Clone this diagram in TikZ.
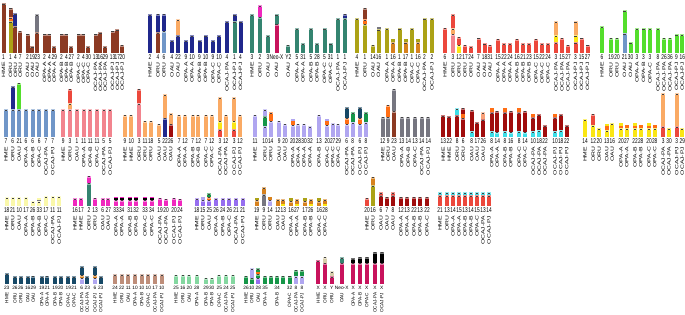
\documentclass[tikz,border=0pt]{standalone}
\usepackage{fontspec}
\setmainfont{Liberation Sans}
\definecolor{br}{RGB}{140,58,35}
\definecolor{olive}{RGB}{172,162,22}
\definecolor{navy}{RGB}{32,40,140}
\definecolor{steel}{RGB}{112,150,200}
\definecolor{teal}{RGB}{52,132,112}
\definecolor{magenta}{RGB}{240,40,190}
\definecolor{crimson}{RGB}{200,18,92}
\definecolor{red}{RGB}{236,72,60}
\definecolor{pink}{RGB}{242,132,142}
\definecolor{lorange}{RGB}{250,170,100}
\definecolor{yellow}{RGB}{250,230,20}
\definecolor{green}{RGB}{84,222,44}
\definecolor{gray}{RGB}{118,118,128}
\definecolor{lav}{RGB}{176,166,240}
\definecolor{dteal}{RGB}{22,72,102}
\definecolor{darkred}{RGB}{160,12,12}
\definecolor{cyan}{RGB}{60,222,232}
\definecolor{orange}{RGB}{255,110,20}
\definecolor{lyellow}{RGB}{250,248,170}
\definecolor{purple}{RGB}{150,110,240}
\definecolor{dorange}{RGB}{215,130,30}
\definecolor{tan}{RGB}{190,142,122}
\definecolor{beige}{RGB}{215,205,170}
\definecolor{lgreen}{RGB}{132,215,160}
\definecolor{green2}{RGB}{22,150,72}
\definecolor{lsalmon}{RGB}{250,160,120}
\newcount\bn
\def\rowb{0}\def\hs{1}\def\ls{1}\def\numy{0}\def\laby{0}
\newcommand\setrow[5]{\def\rowb{#1}\def\hs{#2}\def\ls{#3}\def\numy{#4}\def\laby{#5}}
\newcommand\B[4]{%
  \global\advance\bn by 1\relax
  \gdef\cy{0}%
  \foreach \bc/\bh in {#2}{%
    \pgfmathsetmacro\bny{\cy+\bh*\hs}%
    \fill[\bc] ({#1-2},{\rowb+\cy}) rectangle ({#1+2},{\rowb+\bny});
    \ifdim\bh pt>2.9pt
      \fill[capst] ({#1-2},{\rowb+\bny-2}) rectangle ({#1+2},{\rowb+\bny});
      \fill[glyph] ({#1-1.1},{\rowb+\bny-1.5}) rectangle ({#1+1.1},{\rowb+\bny-0.6});
    \fi
    \xdef\cy{\bny}%
  }%
  \node[num,yscale=\ls] (n\the\bn) at (#1,\numy) {#3};
  \node[lab,xscale=\ls] (l\the\bn) at (#1,\laby) {#4};
}
\begin{document}
\begin{tikzpicture}[x=1pt,y=1pt,
  capst/.style={fill=white,fill opacity=0.45},
  glyph/.style={fill=black!75},
  num/.style={font=\fontsize{4.8}{5}\selectfont,anchor=base,inner sep=0pt},
  lab/.style={font=\fontsize{4.7}{5}\selectfont,rotate=90,anchor=east,inner sep=0pt}]
\useasboundingbox[fill=white] (0,0) rectangle (685,-315);
% ===== ROW 1 =====
\setrow{-53}{1.39}{1.45}{-59.8}{-62}
\B{3.5}{br/36}{1}{HME}
\B{10.5}{olive/22.7,orange/3,br/7}{1}{ORU}
\B{15.4}{br/19.3,navy/9.3}{4}{ORU}
\B{20.3}{br/16}{7}{ORU}
\B{27.5}{br/14}{2}{OAU}
\B{32.4}{br/5}{19}{OAU}
\B{37.3}{br/15,gray/12.7}{23}{OAU}
\B{44.5}{br/14}{2}{OPA-A}
\B{49.4}{br/14}{4}{OPA-A}
\B{54.3}{br/5}{29}{OPA-A}
\B{61.5}{br/14}{2}{OPA-B}
\B{66.4}{br/14}{4}{OPA-B}
\B{71.3}{br/5}{27}{OPA-B}
\B{78.5}{br/14}{2}{OPA-C}
\B{83.4}{br/14}{4}{OPA-C}
\B{88.3}{br/5}{30}{OPA-C}
\B{95.5}{br/14}{13}{OCAJ-PA}
\B{100.4}{br/15}{16}{OCAJ-PA}
\B{105.3}{br/5}{29}{OCAJ-PA}
\B{112.5}{br/16}{13}{OCAJ-PJ}
\B{117.4}{br/17}{17}{OCAJ-PJ}
\B{122.3}{br/6}{20}{OCAJ-PJ}
%
\B{150}{navy/27.7}{2}{HME}
\B{158}{br/15,navy/13.3}{4}{ORU}
\B{164}{steel/16,navy/12.3}{6}{ORU}
\B{172}{navy/9.3}{4}{OAU}
\B{178}{navy/12.7,lorange/11.7}{22}{OAU}
\B{186}{navy/9.3}{9}{OPA-A}
\B{192}{navy/12.7}{10}{OPA-A}
\B{199.5}{navy/9.3}{9}{OPA-B}
\B{205.5}{navy/12.7}{10}{OPA-B}
\B{213}{navy/9.3}{9}{OPA-C}
\B{219}{navy/12.7}{10}{OPA-C}
\B{227}{navy/22.7}{4}{OCAJ-PA}
\B{234.5}{teal/22.7,navy/5}{1}{OCAJ-PJ}
\B{240.5}{navy/22.7}{4}{OCAJ-PJ}
%
\B{252}{teal/27.7}{3}{HME}
\B{260}{teal/26,magenta/8.3}{2}{ORU}
\B{268}{teal/12.7}{3}{OAU}
\B{276.5}{crimson/21,teal/6.7}{Neo-X}{OAU}
\B{288.3}{teal/6}{Y2}{OAU}
\B{297}{teal/17.7}{5}{OPA-A}
\B{303}{teal/7}{31}{OPA-A}
\B{311}{teal/17.7}{5}{OPA-B}
\B{317}{teal/7}{28}{OPA-B}
\B{324.5}{teal/17.7}{5}{OPA-C}
\B{330.5}{teal/7}{31}{OPA-C}
\B{338}{teal/25}{1}{OCAJ-PA}
\B{345}{teal/25,navy/3.3}{1}{OCAJ-PJ}
%
\B{357}{olive/25}{4}{HME}
\B{365}{olive/21,orange/3.3,br/8.3}{1}{ORU}
\B{373}{olive/6}{14}{OAU}
\B{378.5}{olive/17,gray/2}{16}{OAU}
\B{387}{olive/17.7}{1}{OPA-A}
\B{393}{dorange/7.7,olive/2.5}{16}{OPA-A}
\B{399.5}{olive/17.7}{1}{OPA-B}
\B{405.5}{dorange/7.7,olive/2.5}{17}{OPA-B}
\B{412}{olive/17.7}{1}{OPA-C}
\B{418}{dorange/7.7,olive/2.5}{16}{OPA-C}
\B{424.5}{olive/25}{2}{OCAJ-PA}
\B{432}{olive/25}{2}{OCAJ-PJ}
%
\B{445}{red/18.3}{6}{HME}
\B{453}{pink/14,lorange/4,red/9.7}{3}{ORU}
\B{459}{yellow/6,red/5.7}{12}{ORU}
\B{465}{red/6}{17}{ORU}
\B{471}{red/5}{24}{ORU}
\B{478.5}{red/11}{7}{OAU}
\B{484.5}{red/7}{18}{OAU}
\B{490}{red/6}{31}{OAU}
\B{498}{red/10.3}{15}{OPA-A}
\B{504}{red/7}{22}{OPA-A}
\B{510}{red/7}{24}{OPA-A}
\B{517}{red/10.3}{16}{OPA-B}
\B{523}{red/7}{21}{OPA-B}
\B{529}{red/7}{23}{OPA-B}
\B{536}{red/10.3}{15}{OPA-C}
\B{542}{red/7}{22}{OPA-C}
\B{548}{red/7}{24}{OPA-C}
\B{556}{red/7.7,yellow/5,lorange/10}{3}{OCAJ-PA}
\B{562}{red/11}{15}{OCAJ-PA}
\B{568}{red/6}{27}{OCAJ-PA}
\B{575.5}{red/7.7,yellow/5,lorange/10}{3}{OCAJ-PJ}
\B{581.5}{red/11}{15}{OCAJ-PJ}
\B{587.5}{red/6}{27}{OCAJ-PJ}
%
\B{602}{green/19.3}{6}{HME}
\B{611}{green/11}{19}{ORU}
\B{617}{green/11}{20}{ORU}
\B{624.5}{steel/14.3,green/16.7}{21}{OAU}
\B{630.5}{green/7.7}{30}{OAU}
\B{637}{green/17.7}{3}{OPA-A}
\B{643.5}{green/17.7}{3}{OPA-B}
\B{650}{green/17.7}{3}{OPA-C}
\B{658}{green/17.7}{8}{OCAJ-PA}
\B{664}{green/11}{26}{OCAJ-PA}
\B{670}{green/11}{36}{OCAJ-PA}
\B{676.5}{green/13.7}{9}{OCAJ-PJ}
\B{682.3}{green/13.7}{16}{OCAJ-PJ}
% ===== ROW 2 =====
\setrow{-137}{1.75}{1.45}{-143.8}{-146.5}
\B{6}{steel/16}{7}{HME}
\B{12.7}{steel/16,navy/13}{6}{ORU}
\B{19.3}{steel/16,green/15}{21}{OAU}
\B{26}{steel/16}{6}{OPA-A}
\B{32.7}{steel/16}{6}{OPA-B}
\B{39.3}{steel/16}{6}{OPA-C}
\B{46}{steel/16}{7}{OCAJ-PA}
\B{52.7}{steel/16}{7}{OCAJ-PJ}
%
\B{63.3}{pink/16}{9}{HME}
\B{70}{pink/16,lorange/3.3,red/8.3}{3}{ORU}
\B{77}{pink/16}{1}{OAU}
\B{83.7}{pink/16}{11}{OPA-A}
\B{90.3}{pink/16}{11}{OPA-B}
\B{97}{pink/16}{11}{OPA-C}
\B{103.7}{pink/16}{5}{OCAJ-PA}
\B{110.3}{pink/16}{5}{OCAJ-PJ}
%
\B{125}{lorange/12.7}{9}{HME}
\B{131.3}{lorange/12.7}{10}{HME}
\B{139.3}{pink/19.3,red/8.3}{3}{ORU}
\B{145}{lorange/9.3}{11}{ORU}
\B{150.7}{lorange/9.3}{18}{ORU}
\B{159.3}{lorange/7.7}{5}{OAU}
\B{165}{navy/11,lorange/13.3}{22}{OAU}
\B{170.7}{darkred/7.7,lorange/6}{26}{OAU}
\B{179.3}{lorange/12.7}{7}{OPA-A}
\B{185}{lorange/12.7}{12}{OPA-A}
\B{192.7}{lorange/12.7}{7}{OPA-B}
\B{198.3}{lorange/12.7}{12}{OPA-B}
\B{206}{lorange/12.7}{7}{OPA-C}
\B{211.7}{lorange/12.7}{12}{OPA-C}
\B{220}{red/4.3,yellow/5,lorange/13.3}{3}{OCAJ-PA}
\B{225.7}{lorange/12.7}{12}{OCAJ-PA}
\B{234.3}{red/4.3,yellow/5,lorange/13.3}{3}{OCAJ-PJ}
\B{240}{lorange/12.7}{12}{OCAJ-PJ}
%
\B{255}{lav/12.7}{11}{HME}
\B{265}{lav/6,green2/6,lav/4}{10}{ORU}
\B{270.7}{lav/9.3,orange/5}{14}{ORU}
\B{279.3}{lav/9.3}{9}{OAU}
\B{285}{lav/7.7}{20}{OAU}
\B{292.7}{lav/7,orange/2,lav/1.5}{20}{OPA-A}
\B{298.3}{lav/7.7}{28}{OPA-A}
\B{304}{lav/7.7}{30}{OPA-A}
\B{310}{lav/6}{32}{OPA-A}
\B{319}{lav/12.7}{13}{OPA-B}
\B{327.3}{lav/7,orange/2,lav/1}{20}{OPA-C}
\B{332.7}{lav/8}{27}{OPA-C}
\B{338.3}{lav/7.7}{29}{OPA-C}
\B{346.7}{lav/7.7,orange/3.3,dteal/6}{6}{OCAJ-PA}
\B{352.7}{lav/8.3,green2/6}{8}{OCAJ-PA}
\B{360}{lav/7.7,orange/3.3,dteal/6}{6}{OCAJ-PJ}
\B{366}{lav/8.3,green2/6}{8}{OCAJ-PJ}
%
\B{382.7}{gray/11.7}{12}{HME}
\B{388.3}{gray/11.7,orange/6.7}{9}{ORU}
\B{394}{br/15,gray/12.7}{23}{OAU}
\B{401.7}{gray/11.7}{13}{OPA-A}
\B{408.3}{gray/11.7}{14}{OPA-B}
\B{415}{gray/11.7}{13}{OPA-C}
\B{421.7}{gray/11.7}{14}{OCAJ-PA}
\B{428.3}{gray/11.7}{14}{OCAJ-PJ}
%
\B{443.3}{darkred/12.3}{13}{HME}
\B{449.3}{darkred/12}{22}{HME}
\B{457.3}{darkred/12.3,cyan/4.3}{8}{ORU}
\B{463.3}{darkred/11,orange/2,darkred/3.7}{6}{ORU}
\B{471.7}{cyan/3.3,darkred/12.3}{8}{OAU}
\B{477.3}{darkred/8.3}{17}{OAU}
\B{483.3}{darkred/10,lsalmon/4}{26}{OAU}
\B{491.7}{cyan/3.3,darkred/11,orange/2}{8}{OPA-A}
\B{497.3}{cyan/3,darkred/12}{14}{OPA-A}
\B{505}{cyan/3.3,darkred/11,orange/2}{8}{OPA-B}
\B{510.7}{cyan/3,darkred/12}{16}{OPA-B}
\B{519.3}{cyan/3.3,darkred/11,orange/2}{8}{OPA-C}
\B{525}{cyan/3,darkred/12}{14}{OPA-C}
\B{533.3}{cyan/3.3,darkred/8,orange/2}{10}{OCAJ-PA}
\B{539.3}{cyan/4,darkred/9}{18}{OCAJ-PA}
\B{545}{darkred/6.7}{22}{OCAJ-PA}
\B{555}{cyan/3.3,darkred/8,orange/2}{10}{OCAJ-PJ}
\B{560.7}{cyan/4,darkred/9}{18}{OCAJ-PJ}
\B{566.7}{darkred/6.7}{22}{OCAJ-PJ}
%
\B{585}{yellow/10}{14}{HME}
\B{593.3}{yellow/6.7,red/6.7}{12}{ORU}
\B{599.3}{yellow/5}{20}{ORU}
\B{606.7}{yellow/4,orange/2.5,yellow/1.2}{13}{OAU}
\B{612.3}{yellow/8}{16}{OAU}
\B{621}{yellow/5,orange/1.5,yellow/1.5}{20}{OPA-A}
\B{626.7}{yellow/5,orange/2}{27}{OPA-A}
\B{635}{yellow/5,orange/1.5,yellow/1.5}{22}{OPA-B}
\B{640.7}{yellow/5,orange/2}{28}{OPA-B}
\B{649}{yellow/5,orange/1.5,yellow/1.5}{20}{OPA-C}
\B{654.7}{yellow/5,orange/2}{28}{OPA-C}
\B{663.3}{red/6,lorange/19}{3}{OCAJ-PA}
\B{669}{yellow/5}{30}{OCAJ-PA}
\B{676.7}{red/6,lorange/19}{3}{OCAJ-PJ}
\B{682.3}{yellow/5}{29}{OCAJ-PJ}
% ===== ROW 3 =====
\setrow{-206}{1.05}{1.45}{-212.3}{-215.5}
\B{6.7}{lyellow/8.3}{18}{HME}
\B{12.7}{lyellow/8.3}{21}{ORU}
\B{19.3}{lyellow/8.3}{10}{OAU}
\B{26}{lyellow/8.3}{17}{OPA-A}
\B{32.7}{lyellow/4.3}{26}{OPA-B}
\B{39.3}{lyellow/4.3,gray/1.5,lyellow/1.5}{33}{OPA-B}
\B{46}{lyellow/9.3}{17}{OPA-C}
\B{52.7}{lyellow/9.3}{11}{OCAJ-PA}
\B{59.3}{lyellow/9.3}{11}{OCAJ-PJ}
%
\B{75}{magenta/7.7}{16}{HME}
\B{81}{magenta/7.7}{17}{HME}
\B{89}{teal/22,magenta/7}{2}{ORU}
\B{95}{magenta/8}{13}{ORU}
\B{102.7}{magenta/7.7}{6}{OAU}
\B{108.3}{magenta/7.7}{27}{OAU}
\B{116}{magenta/6,black/1.5,magenta/1.5}{33}{OPA-A}
\B{121.7}{magenta/6,black/1.5,magenta/1.5}{34}{OPA-A}
\B{130}{magenta/6,black/1.5,magenta/1.5}{31}{OPA-B}
\B{136}{magenta/6,black/1.5,magenta/1.5}{32}{OPA-B}
\B{145}{magenta/6,black/1.5,magenta/1.5}{33}{OPA-C}
\B{151.7}{magenta/6,black/1.5,magenta/1.5}{34}{OPA-C}
\B{160}{magenta/8}{19}{OCAJ-PA}
\B{166}{magenta/7}{20}{OCAJ-PA}
\B{174}{magenta/8}{20}{OCAJ-PJ}
\B{180}{magenta/7}{24}{OCAJ-PJ}
%
\B{196.7}{purple/7.7}{18}{HME}
\B{202.7}{purple/6,lav/2.3}{15}{ORU}
\B{209.3}{purple/6,orange/3,green2/3.3}{25}{OAU}
\B{216}{purple/7.7}{26}{OPA-A}
\B{222.7}{purple/7.7}{24}{OPA-B}
\B{229.3}{purple/7.7}{26}{OPA-C}
\B{236}{purple/7.7}{21}{OCAJ-PA}
\B{242.7}{purple/7.7}{21}{OCAJ-PJ}
%
\B{256.7}{dorange/6,olive/1.7}{19}{HME}
\B{264}{gray/11,dorange/6.7}{9}{ORU}
\B{270}{lav/6,dorange/2.7}{14}{ORU}
\B{277.7}{dorange/6.7}{12}{OAU}
\B{283.3}{yellow/1.5,dorange/5.2}{13}{OAU}
\B{291}{dorange/5,olive/2.5}{16}{OPA-A}
\B{296.7}{yellow/2,dorange/4.7}{27}{OPA-A}
\B{305}{dorange/5,olive/2.5}{17}{OPA-B}
\B{310.7}{yellow/2,dorange/4.7}{26}{OPA-B}
\B{319.3}{dorange/5,olive/2.5}{16}{OPA-C}
\B{325}{yellow/2,dorange/4.7}{28}{OPA-C}
%
\B{367}{red/8}{20}{HME}
\B{373}{olive/20,dorange/8}{16}{ORU}
\B{381}{darkred/10,red/3}{6}{OAU}
\B{387}{darkred/9}{7}{OAU}
\B{393}{darkred/10,red/3}{8}{OAU}
\B{401}{darkred/9}{12}{OPA-A}
\B{407}{darkred/9}{13}{OPA-A}
\B{414}{darkred/9}{22}{OPA-B}
\B{420}{darkred/9}{13}{OPA-B}
\B{427}{darkred/9}{22}{OPA-C}
%
\B{440}{red/10,cyan/3}{21}{HME}
\B{447}{red/10,cyan/3}{13}{ORU}
\B{453}{red/10,cyan/3}{14}{OPA-A}
\B{459}{red/10,cyan/3}{15}{OPA-A}
\B{465}{red/10,cyan/3}{13}{OPA-B}
\B{471}{red/10,cyan/3}{14}{OPA-B}
\B{477}{red/10,cyan/3}{15}{OPA-C}
\B{483}{red/10,cyan/3}{13}{OCAJ-PA}
\B{489}{red/10,cyan/3}{14}{OCAJ-PJ}
% ===== ROW 4 =====
\setrow{-283.5}{0.95}{1.0}{-289.5}{-292.5}
\B{6.7}{dteal/11}{23}{HME}
\B{15}{dteal/7.7}{26}{ORU}
\B{20.7}{dteal/7.7}{26}{ORU}
\B{27.7}{dteal/7.7}{16}{OAU}
\B{33.3}{dteal/8.3}{29}{OAU}
\B{41.7}{dteal/7.7}{19}{OPA-A}
\B{47.3}{dteal/8.3}{21}{OPA-A}
\B{55}{dteal/7.7}{19}{OPA-B}
\B{60.7}{dteal/7.7}{20}{OPA-B}
\B{68.3}{dteal/7.7}{19}{OPA-C}
\B{74}{dteal/7.7}{21}{OPA-C}
\B{81.7}{lav/6,dorange/3.3,dteal/9}{6}{OCAJ-PA}
\B{87.3}{dteal/7.7}{23}{OCAJ-PA}
\B{95}{lav/6,dorange/3.3,dteal/9}{6}{OCAJ-PJ}
\B{100.7}{dteal/7.7}{23}{OCAJ-PJ}
%
\B{115}{tan/10}{24}{HME}
\B{121.7}{tan/10}{22}{ORU}
\B{128.3}{tan/10}{11}{OAU}
\B{135}{tan/10}{10}{OPA-A}
\B{141.7}{tan/10}{10}{OPA-B}
\B{148.3}{tan/10}{10}{OPA-C}
\B{155}{tan/10}{17}{OCAJ-PA}
\B{161.7}{tan/10}{10}{OCAJ-PJ}
%
\B{176}{lgreen/9.3}{25}{HME}
\B{182.7}{lgreen/9.3}{16}{ORU}
\B{189.3}{lgreen/9.3}{20}{OAU}
\B{196.7}{lgreen/9.3}{28}{OPA-A}
\B{206}{lgreen/6}{29}{OPA-B}
\B{211.7}{lgreen/6}{30}{OPA-B}
\B{219.3}{lgreen/9.3}{25}{OPA-C}
\B{226}{lgreen/9.3}{24}{OCAJ-PA}
\B{232.7}{lgreen/9.3}{25}{OCAJ-PJ}
%
\B{246}{green2/8.3}{26}{HME}
\B{251.7}{green2/6,lav/10}{10}{ORU}
\B{258.3}{purple/6,green2/4.3,orange/2.3,green2/3.3}{28}{OAU}
\B{265}{green2/8.3}{35}{OPA-A}
\B{270.7}{green2/8.3}{}{}
\B{277}{green2/8.3}{34}{OPA-B}
\B{283}{green2/8.3}{}{}
\B{289.5}{green2/8.3}{32}{OPA-C}
\B{296}{lav/7.7,green2/6.7}{8}{OCAJ-PA}
\B{302}{lav/7.7,green2/6.7}{8}{OCAJ-PJ}
%
\B{318.3}{crimson/24.3}{X}{HME}
\B{325}{crimson/21.7,beige/6.7}{X}{ORU}
\B{331.7}{crimson/7.7,beige/5}{Y}{ORU}
\B{341.7}{crimson/21.7,teal/5.7}{Neo-X}{OAU}
\B{353.3}{crimson/21.7,black/5}{X}{OPA-A}
\B{360}{crimson/21.7,black/6.7}{X}{OPA-B}
\B{366.7}{crimson/21.7,black/6.7}{X}{OPA-C}
\B{375}{crimson/21.7,black/11.7}{X}{OCAJ-PA}
\B{381.7}{crimson/21.7,black/11.7}{X}{OCAJ-PJ}
\end{tikzpicture}
\end{document}
